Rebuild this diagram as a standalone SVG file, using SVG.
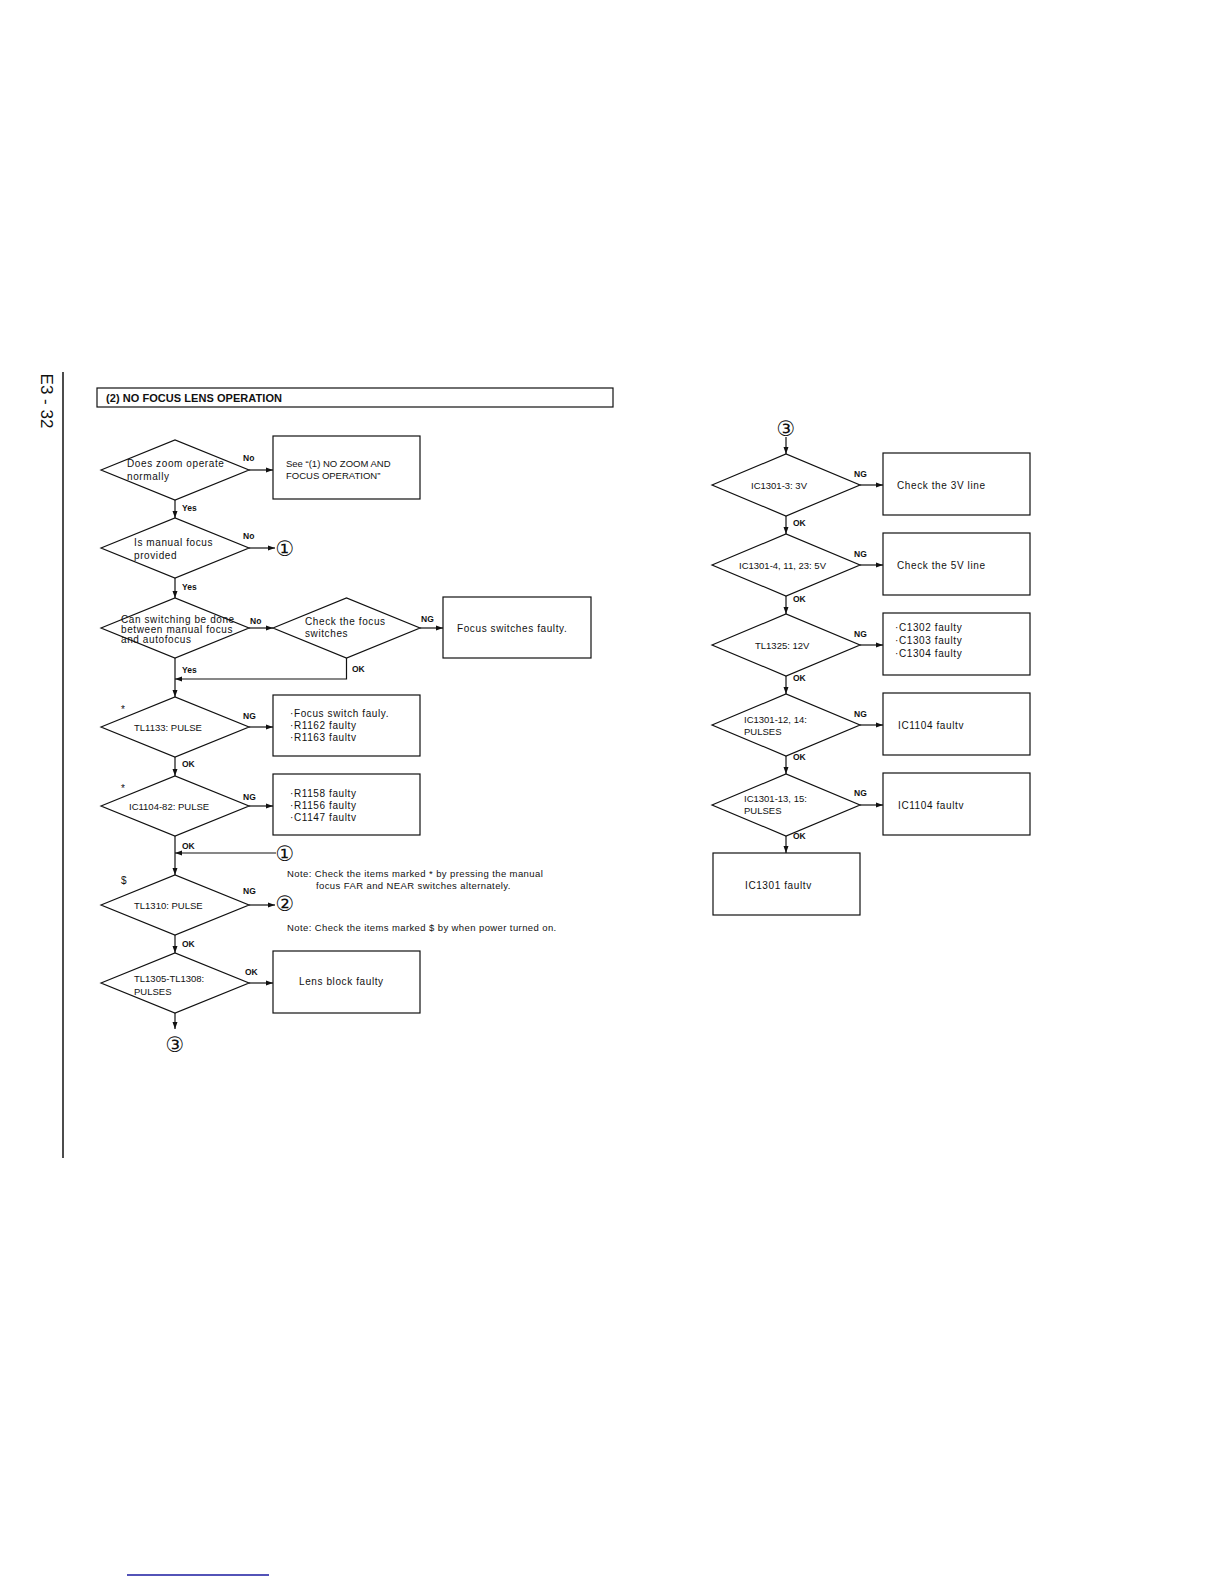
<svg xmlns="http://www.w3.org/2000/svg" width="1224" height="1584" viewBox="0 0 1224 1584">
<style>
.sh{fill:#fff;stroke:#111;stroke-width:1.2}
.ln{fill:none;stroke:#111;stroke-width:1.2}
text{font-family:"Liberation Sans",Arial,sans-serif;fill:#111}
.t{font-size:10px;letter-spacing:0.6px}
.u{font-size:9.5px}
.n{font-size:9.5px;letter-spacing:0.4px}
.lb{font-size:8.5px;font-weight:bold}
.c{font-family:"DejaVu Sans",sans-serif;font-size:21px}
</style>
<defs>
<marker id="ah" markerWidth="8" markerHeight="6" refX="7" refY="3" orient="auto" markerUnits="userSpaceOnUse">
<path d="M0,0.5 L7,3 L0,5.5 Z" fill="#111"/>
</marker>
</defs>
<rect width="1224" height="1584" fill="#fff"/>

<g id="page">
<text x="45" y="401" font-size="17" text-anchor="middle" transform="rotate(90 45 401)" dominant-baseline="middle">E3 - 32</text>
<line x1="63" y1="372" x2="63" y2="1158" stroke="#111" stroke-width="1.5"/>
<line x1="127" y1="1575" x2="269" y2="1575" stroke="#1a1aa0" stroke-width="1.6"/>
</g>

<g id="title">
<rect x="97" y="388" width="516" height="19" class="sh"/>
<text x="106" y="402" font-size="11" font-weight="bold" textLength="176">(2) NO FOCUS LENS OPERATION</text>
</g>

<g id="connectors">
<line x1="249" y1="470" x2="273" y2="470" class="ln" marker-end="url(#ah)"/>
<line x1="175" y1="500" x2="175" y2="518" class="ln" marker-end="url(#ah)"/>
<line x1="249" y1="548" x2="275" y2="548" class="ln" marker-end="url(#ah)"/>
<line x1="175" y1="578" x2="175" y2="598" class="ln" marker-end="url(#ah)"/>
<line x1="249" y1="628" x2="273" y2="628" class="ln" marker-end="url(#ah)"/>
<line x1="420" y1="628" x2="443" y2="628" class="ln" marker-end="url(#ah)"/>
<polyline points="346.5,658 346.5,679 175,679" class="ln" marker-end="url(#ah)"/>
<line x1="175" y1="658" x2="175" y2="697" class="ln" marker-end="url(#ah)"/>
<line x1="249" y1="727" x2="273" y2="727" class="ln" marker-end="url(#ah)"/>
<line x1="175" y1="757" x2="175" y2="776" class="ln" marker-end="url(#ah)"/>
<line x1="249" y1="806" x2="273" y2="806" class="ln" marker-end="url(#ah)"/>
<line x1="175" y1="836" x2="175" y2="875" class="ln" marker-end="url(#ah)"/>
<line x1="276" y1="853" x2="175" y2="853" class="ln" marker-end="url(#ah)"/>
<line x1="249" y1="905" x2="275" y2="905" class="ln" marker-end="url(#ah)"/>
<line x1="175" y1="935" x2="175" y2="953" class="ln" marker-end="url(#ah)"/>
<line x1="249" y1="983" x2="273" y2="983" class="ln" marker-end="url(#ah)"/>
<line x1="175" y1="1013" x2="175" y2="1029" class="ln" marker-end="url(#ah)"/>

<line x1="786" y1="437" x2="786" y2="454" class="ln" marker-end="url(#ah)"/>
<line x1="860" y1="485" x2="883" y2="485" class="ln" marker-end="url(#ah)"/>
<line x1="786" y1="516" x2="786" y2="534" class="ln" marker-end="url(#ah)"/>
<line x1="860" y1="565" x2="883" y2="565" class="ln" marker-end="url(#ah)"/>
<line x1="786" y1="596" x2="786" y2="614" class="ln" marker-end="url(#ah)"/>
<line x1="860" y1="645" x2="883" y2="645" class="ln" marker-end="url(#ah)"/>
<line x1="786" y1="676" x2="786" y2="694" class="ln" marker-end="url(#ah)"/>
<line x1="860" y1="725" x2="883" y2="725" class="ln" marker-end="url(#ah)"/>
<line x1="786" y1="756" x2="786" y2="774" class="ln" marker-end="url(#ah)"/>
<line x1="860" y1="805" x2="883" y2="805" class="ln" marker-end="url(#ah)"/>
<line x1="786" y1="836" x2="786" y2="853" class="ln" marker-end="url(#ah)"/>
</g>

<g id="labels" class="lb">
<text x="243" y="461">No</text>
<text x="182" y="511">Yes</text>
<text x="243" y="539">No</text>
<text x="182" y="590">Yes</text>
<text x="250" y="624">No</text>
<text x="421" y="622">NG</text>
<text x="352" y="672">OK</text>
<text x="182" y="673">Yes</text>
<text x="243" y="719">NG</text>
<text x="182" y="767">OK</text>
<text x="243" y="800">NG</text>
<text x="182" y="849">OK</text>
<text x="243" y="894">NG</text>
<text x="182" y="947">OK</text>
<text x="245" y="975">OK</text>
<text x="854" y="477">NG</text>
<text x="793" y="526">OK</text>
<text x="854" y="557">NG</text>
<text x="793" y="602">OK</text>
<text x="854" y="637">NG</text>
<text x="793" y="681">OK</text>
<text x="854" y="717">NG</text>
<text x="793" y="760">OK</text>
<text x="854" y="796">NG</text>
<text x="793" y="839">OK</text>
</g>

<g id="d1"><polygon points="101,470 175,440 249,470 175,500" class="sh"/>
<text class="t" x="127" y="467">Does zoom operate</text><text class="t" x="127" y="480">normally</text></g>
<g id="b1"><rect x="273" y="436" width="147" height="63" class="sh"/>
<text class="u" x="286" y="467">See “(1) NO ZOOM AND</text><text class="u" x="286" y="479">FOCUS OPERATION”</text></g>

<g id="d2"><polygon points="101,548 175,518 249,548 175,578" class="sh"/>
<text class="t" x="134" y="546">Is manual focus</text><text class="t" x="134" y="559">provided</text></g>
<g id="c1a"><text class="c" x="285" y="556" text-anchor="middle">①</text></g>

<g id="d3"><polygon points="101,628 175,598 249,628 175,658" class="sh"/>
<text class="t" x="121" y="623" letter-spacing="0.2">Can switching be done</text><text class="t" x="121" y="633" letter-spacing="0.2">between manual focus</text><text class="t" x="121" y="643" letter-spacing="0.2">and autofocus</text></g>
<g id="d4"><polygon points="273,628 346.5,598 420,628 346.5,658" class="sh"/>
<text class="t" x="305" y="625">Check the focus</text><text class="t" x="305" y="637">switches</text></g>
<g id="b2"><rect x="443" y="597" width="148" height="61" class="sh"/>
<text class="t" x="457" y="632">Focus switches faulty.</text></g>

<g id="d5"><polygon points="101,727 175,697 249,727 175,757" class="sh"/>
<text class="t" x="121" y="713">*</text><text class="u" x="134" y="731">TL1133: PULSE</text></g>
<g id="b3"><rect x="273" y="695" width="147" height="61" class="sh"/>
<text class="t" x="290" y="717">·Focus switch fauly.</text><text class="t" x="290" y="729">·R1162 faulty</text><text class="t" x="290" y="741">·R1163 faultv</text></g>

<g id="d6"><polygon points="101,806 175,776 249,806 175,836" class="sh"/>
<text class="t" x="121" y="792">*</text><text class="u" x="129" y="810">IC1104-82: PULSE</text></g>
<g id="b4"><rect x="273" y="774" width="147" height="61" class="sh"/>
<text class="t" x="290" y="797">·R1158 faulty</text><text class="t" x="290" y="809">·R1156 faulty</text><text class="t" x="290" y="821">·C1147 faultv</text></g>
<g id="c1b"><text class="c" x="285" y="861" text-anchor="middle">①</text></g>

<g id="d7"><polygon points="101,905 175,875 249,905 175,935" class="sh"/>
<text class="t" x="121" y="884">$</text><text class="u" x="134" y="909">TL1310: PULSE</text></g>
<g id="c2"><text class="c" x="285" y="911" text-anchor="middle">②</text></g>

<g id="notes">
<text class="n" x="287" y="877">Note: Check the items marked * by pressing the manual</text>
<text class="n" x="316" y="889">focus FAR and NEAR switches alternately.</text>
<text class="n" x="287" y="931">Note: Check the items marked $ by when power turned on.</text>
</g>

<g id="d8"><polygon points="101,983 175,953 249,983 175,1013" class="sh"/>
<text class="u" x="134" y="982">TL1305-TL1308:</text><text class="u" x="134" y="995">PULSES</text></g>
<g id="b5"><rect x="273" y="951" width="147" height="62" class="sh"/>
<text class="t" x="299" y="985">Lens block faulty</text></g>
<g id="c3a"><text class="c" x="175" y="1052" text-anchor="middle">③</text></g>

<g id="c3b"><text class="c" x="786" y="436" text-anchor="middle">③</text></g>
<g id="d9"><polygon points="712,485 786,454 860,485 786,516" class="sh"/>
<text class="u" x="751" y="489">IC1301-3: 3V</text></g>
<g id="b6"><rect x="883" y="453" width="147" height="62" class="sh"/>
<text class="t" x="897" y="489">Check the 3V line</text></g>

<g id="d10"><polygon points="712,565 786,534 860,565 786,596" class="sh"/>
<text class="u" x="739" y="569">IC1301-4, 11, 23: 5V</text></g>
<g id="b7"><rect x="883" y="533" width="147" height="62" class="sh"/>
<text class="t" x="897" y="569">Check the 5V line</text></g>

<g id="d11"><polygon points="712,645 786,614 860,645 786,676" class="sh"/>
<text class="u" x="755" y="649">TL1325: 12V</text></g>
<g id="b8"><rect x="883" y="613" width="147" height="62" class="sh"/>
<text class="t" x="895" y="631">·C1302 faulty</text><text class="t" x="895" y="644">·C1303 faulty</text><text class="t" x="895" y="657">·C1304 faulty</text></g>

<g id="d12"><polygon points="712,725 786,694 860,725 786,756" class="sh"/>
<text class="u" x="744" y="723">IC1301-12, 14:</text><text class="u" x="744" y="735">PULSES</text></g>
<g id="b9"><rect x="883" y="693" width="147" height="62" class="sh"/>
<text class="t" x="898" y="729">IC1104 faultv</text></g>

<g id="d13"><polygon points="712,805 786,774 860,805 786,836" class="sh"/>
<text class="u" x="744" y="802">IC1301-13, 15:</text><text class="u" x="744" y="814">PULSES</text></g>
<g id="b10"><rect x="883" y="773" width="147" height="62" class="sh"/>
<text class="t" x="898" y="809">IC1104 faultv</text></g>

<g id="b11"><rect x="713" y="853" width="147" height="62" class="sh"/>
<text class="t" x="745" y="889">IC1301 faultv</text></g>
</svg>
